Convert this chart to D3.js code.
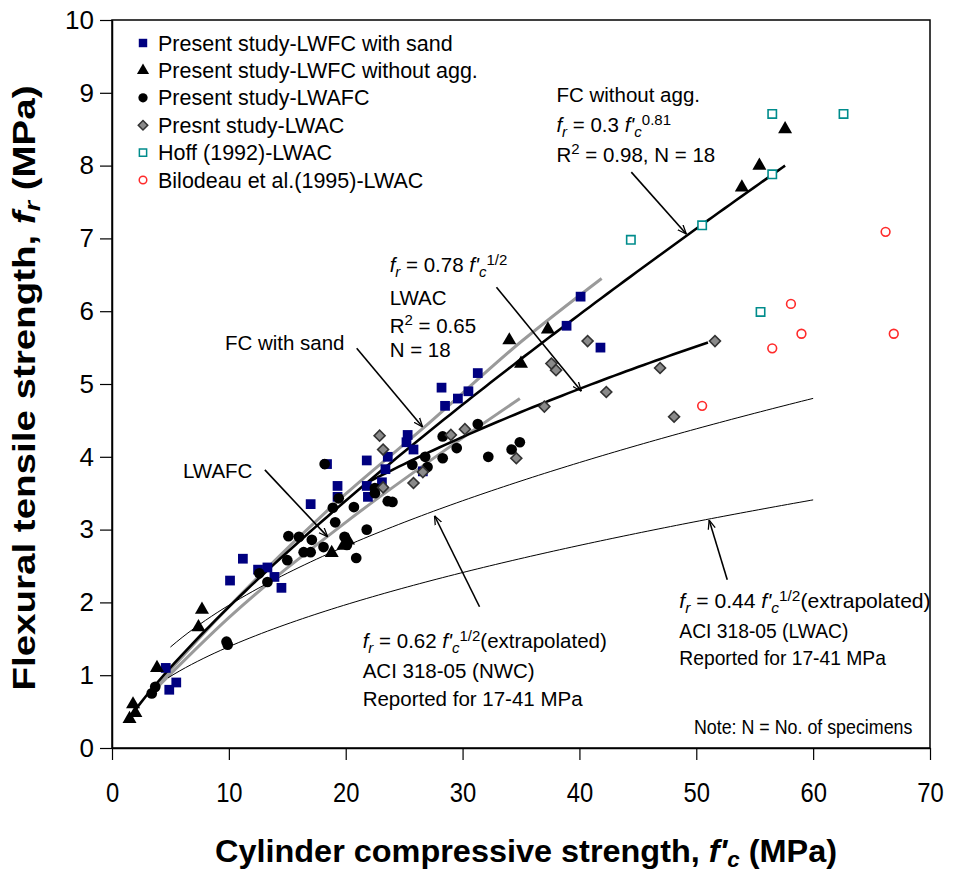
<!DOCTYPE html>
<html>
<head>
<meta charset="utf-8">
<script src="https://cdn.jsdelivr.net/npm/d3@7"></script>
<style>
  body { margin: 0; background: #fff; }
  text { font-family: "Liberation Sans", Arial, sans-serif; fill: #000; }
</style>
</head>
<body>
<div id="chart"></div>
<script>
/** DATA: [f'c (MPa), fr (MPa)] */
const lwfcSand = [[40.1,6.2],[38.9,5.8],[41.8,5.5],[31.3,5.15],[28.2,4.95],[29.6,4.8],[30.5,4.9],[28.5,4.7],
  [25.3,4.3],[25.2,4.2],[25.8,4.1],[23.6,4.0],[21.8,3.95],[23.4,3.83],[26.6,3.8],[18.4,3.9],[19.3,3.6],
  [23.1,3.65],[21.8,3.6],[17.0,3.35],[19.3,3.45],[21.9,3.45],[11.2,2.6],[10.1,2.3],[12.5,2.45],[13.3,2.48],
  [13.9,2.35],[14.5,2.2],[4.6,1.1],[5.5,0.9],[4.9,0.8]]
const lwfcNoAgg = [[57.6,8.5],[55.4,8.0],[53.9,7.7],[37.3,5.75],[34.0,5.6],[35.0,5.28],[7.7,1.9],[7.4,1.66],
  [3.85,1.1],[1.8,0.6],[2.0,0.48],[1.5,0.4],[18.8,2.68],[19.8,2.78],[20.2,2.85]]
const lwafc = [[18.2,3.9],[19.4,3.43],[18.9,3.3],[20.7,3.31],[22.5,3.5],[23.6,3.39],[24.0,3.38],[25.7,3.89],
  [26.8,4.0],[19.1,3.1],[21.8,3.0],[15.1,2.91],[16.0,2.9],[17.1,2.86],[17.0,2.69],[18.1,2.76],[19.9,2.9],
  [20.1,2.79],[20.9,2.61],[16.4,2.69],[15.0,2.58],[12.6,2.4],[13.3,2.28],[9.8,1.46],[9.9,1.42],[3.4,0.75],
  [3.7,0.84],[31.3,4.45],[28.3,4.28],[29.5,4.12],[28.3,3.98],[27.0,3.86],[32.2,4.0],[34.2,4.1],[34.9,4.2],[22.5,3.57]]
const lwac = [[40.7,5.59],[51.6,5.59],[37.6,5.28],[38.0,5.19],[42.3,4.89],[46.9,5.22],[48.1,4.55],[37.0,4.69],
  [22.9,4.29],[23.2,4.1],[30.2,4.38],[34.6,3.98],[23.2,3.58],[25.8,3.64],[26.6,3.79],[29.0,4.3]]
const hoff = [[56.5,8.71],[62.6,8.71],[56.5,7.88],[50.5,7.18],[44.4,6.98],[55.5,5.99]]
const bilodeau = [[66.2,7.09],[58.1,6.1],[59.0,5.69],[66.9,5.69],[56.5,5.49],[50.5,4.7]]

// gray fitted curves
const fcSandCurve = [[3.3,0.77],[10,1.94],[20,3.49],[26.6,4.39],[35,5.58],[41.9,6.45]]
const lwafcCurve = [[3.3,0.74],[10,1.79],[20,3.1],[30,4.26],[34.9,4.8]]

// labelled fits fr = a * fc^b
const powerFits = [
  { a: 0.3, b: 0.81, from: 1.4, to: 57.6, stroke: "#000", w: 2.6 },
  { a: 0.78, b: 0.5, from: 22, to: 51, stroke: "#000", w: 2.6 },
  { a: 0.62, b: 0.5, from: 5, to: 60, stroke: "#000", w: 1 },
  { a: 0.44, b: 0.5, from: 4.8, to: 60, stroke: "#000", w: 1 }
]

const xTicks = [0, 10, 20, 30, 40, 50, 60, 70]
const yTicks = [0, 1, 2, 3, 4, 5, 6, 7, 8, 9, 10]

const legendLabels = ["Present study-LWFC with sand", "Present study-LWFC without agg.", "Present study-LWAFC",
  "Presnt study-LWAC", "Hoff (1992)-LWAC", "Bilodeau et al.(1995)-LWAC"]

/** CONSTANTS */
const width = 960, height = 872
const margins = { top: 20, right: 30, bottom: 124, left: 112 }

const xScale = d3.scaleLinear().domain([0, 70]).range([margins.left, width - margins.right])
const yScale = d3.scaleLinear().domain([0, 10]).range([height - margins.bottom, margins.top])

const svg = d3.select("#chart").append("svg")
  .attr("width", width)
  .attr("height", height)

svg.append("defs").append("marker")
  .attr("id", "arrow")
  .attr("viewBox", "0 0 10 10")
  .attr("refX", 10).attr("refY", 5)
  .attr("markerWidth", 9).attr("markerHeight", 9)
  .attr("markerUnits", "userSpaceOnUse")
  .attr("orient", "auto")
  .append("path")
  .attr("d", "M0,1 L10,5 L0,9")
  .attr("fill", "none")
  .attr("stroke", "#000")
  .attr("stroke-width", 1.4)

// axes
const xAxis = svg.append("g")
  .attr("transform", `translate(0,${yScale(0)})`)
  .call(d3.axisBottom(xScale).tickValues(xTicks).tickSize(12).tickSizeOuter(0).tickPadding(22))
xAxis.selectAll("text").attr("font-size", 28).attr("font-family", "Liberation Sans, Arial")
  .attr("transform", "scale(0.85,1)")

const yAxis = svg.append("g")
  .attr("transform", `translate(${xScale(0)},0)`)
  .call(d3.axisLeft(yScale).tickValues(yTicks).tickSize(12).tickSizeOuter(0).tickPadding(6))
yAxis.selectAll("text").attr("font-size", 26).attr("font-family", "Liberation Sans, Arial")
svg.selectAll(".domain").attr("stroke-width", 1.5)
svg.selectAll(".tick line").attr("stroke-width", 1.2)

// frame
svg.append("rect")
  .attr("x", xScale(0)).attr("y", yScale(10))
  .attr("width", xScale(70) - xScale(0)).attr("height", yScale(0) - yScale(10))
  .attr("fill", "none").attr("stroke", "#000").attr("stroke-width", 1.5)

// axis titles
const yTitle = svg.append("text")
  .attr("transform", `translate(35,388) rotate(-90)`)
  .attr("text-anchor", "middle").attr("font-size", 32).attr("font-weight", "bold")
  .attr("textLength", 605).attr("lengthAdjust", "spacingAndGlyphs")
yTitle.append("tspan").text("Flexural tensile strength, ")
yTitle.append("tspan").attr("font-style", "italic").text("f")
yTitle.append("tspan").attr("font-style", "italic").attr("font-size", 22).attr("dy", 5).text("r")
yTitle.append("tspan").attr("dy", -5).text(" (MPa)")

const xTitle = svg.append("text")
  .attr("x", 526).attr("y", 862)
  .attr("text-anchor", "middle").attr("font-size", 32).attr("font-weight", "bold")
  .attr("textLength", 622).attr("lengthAdjust", "spacingAndGlyphs")
xTitle.append("tspan").text("Cylinder compressive strength, ")
xTitle.append("tspan").attr("font-style", "italic").text("f'")
xTitle.append("tspan").attr("font-style", "italic").attr("font-size", 22).attr("dy", 5).text("c")
xTitle.append("tspan").attr("dy", -5).text(" (MPa)")

// curves
const line = d3.line().x(d => xScale(d[0])).y(d => yScale(d[1]))
const plot = svg.append("g")

plot.append("path").datum(fcSandCurve).attr("d", line.curve(d3.curveMonotoneX))
  .attr("fill", "none").attr("stroke", "#9a9a9a").attr("stroke-width", 3)
plot.append("path").datum(lwafcCurve).attr("d", line.curve(d3.curveMonotoneX))
  .attr("fill", "none").attr("stroke", "#9a9a9a").attr("stroke-width", 3)

powerFits.forEach(f => {
  const pts = d3.range(f.from, f.to, 0.5).concat([f.to]).map(x => [x, f.a * Math.pow(x, f.b)])
  plot.append("path").datum(pts).attr("d", line.curve(d3.curveLinear))
    .attr("fill", "none").attr("stroke", f.stroke).attr("stroke-width", f.w)
})

// symbols (diamond = square turned 45 degrees)
const symbols = [
  { data: lwfcSand, type: d3.symbolSquare, size: 95, fill: "#000080", stroke: "none", rot: 0 },
  { data: lwfcNoAgg, type: d3.symbolTriangle, size: 85, fill: "#000", stroke: "none", rot: 0 },
  { data: lwafc, type: d3.symbolCircle, size: 90, fill: "#000", stroke: "none", rot: 0 },
  { data: lwac, type: d3.symbolSquare, size: 60, fill: "#8a8a8a", stroke: "#333", rot: 45 },
  { data: hoff, type: d3.symbolSquare, size: 70, fill: "#fff", stroke: "#008c8c", rot: 0 },
  { data: bilodeau, type: d3.symbolCircle, size: 60, fill: "#fff", stroke: "#ff2a2a", rot: 0 }
]

symbols.forEach(s => {
  plot.selectAll(null)
    .data(s.data)
    .join("path")
    .attr("transform", d => `translate(${xScale(d[0])},${yScale(d[1])}) rotate(${s.rot})`)
    .attr("d", d3.symbol().type(s.type).size(s.size))
    .attr("fill", s.fill)
    .attr("stroke", s.stroke)
    .attr("stroke-width", 1.6)
})

// legend
const legend = svg.append("g")
symbols.forEach((s, i) => {
  const cy = 43 + i * 27.4
  legend.append("path")
    .attr("transform", `translate(143,${cy}) rotate(${s.rot})`)
    .attr("d", d3.symbol().type(s.type).size(s.size * 0.75))
    .attr("fill", s.fill).attr("stroke", s.stroke).attr("stroke-width", 1.5)
  legend.append("text").attr("x", 158).attr("y", cy + 7.5).attr("font-size", 21.5).text(legendLabels[i])
})

// annotations: arrows in data units
const arrows = [
  [[44.44, 7.91], [49.15, 7.06]],
  [[32.9, 6.33], [40.17, 4.9]],
  [[20.94, 5.49], [26.58, 4.41]],
  [[13.08, 3.82], [18.46, 2.9]],
  [[31.45, 1.94], [27.6, 3.19]],
  [[52.65, 2.31], [51.1, 3.13]]
]
svg.selectAll("line.arrow")
  .data(arrows)
  .join("line")
  .attr("class", "arrow")
  .attr("x1", d => xScale(d[0][0])).attr("y1", d => yScale(d[0][1]))
  .attr("x2", d => xScale(d[1][0])).attr("y2", d => yScale(d[1][1]))
  .attr("stroke", "#000").attr("stroke-width", 1.6)
  .attr("marker-end", "url(#arrow)")

const notes = svg.append("g").attr("font-size", 20.5)

function note(x, y, parts, sx) {
  const t = notes.append("text")
    .attr("transform", `translate(${xScale(x)},${yScale(y)}) scale(${sx || 1},1)`)
  parts.forEach(p => {
    const ts = t.append("tspan").text(p.t)
    if (p.i) ts.attr("font-style", "italic")
    if (p.sub) ts.attr("font-size", 15).attr("dy", 5)
    if (p.sup) ts.attr("font-size", 15).attr("dy", p.sup)
    if (p.dy) ts.attr("dy", p.dy)
  })
  return t
}

function formula(x, y, coef, exp, tail, sx) {
  const parts = [
    { t: "f", i: true }, { t: "r", i: true, sub: true }, { t: " = " + coef + " ", dy: -5 },
    { t: "f'", i: true }, { t: "c", i: true, sub: true }, { t: exp, sup: -12 }
  ]
  if (tail) parts.push({ t: tail, dy: 7 })
  return note(x, y, parts, sx)
}

note(38.03, 8.87, [{ t: "FC without agg." }])
formula(38.03, 8.46, "0.3", "0.81")
note(38.03, 8.05, [{ t: "R" }, { t: "2", sup: -8 }, { t: " = 0.98, N = 18", dy: 8 }])

formula(23.76, 6.54, "0.78", "1/2")
note(23.76, 6.09, [{ t: "LWAC" }])
note(23.76, 5.7, [{ t: "R" }, { t: "2", sup: -8 }, { t: " = 0.65", dy: 8 }])
note(23.76, 5.37, [{ t: "N = 18" }])

note(9.66, 5.47, [{ t: "FC with sand" }])
note(6.07, 3.71, [{ t: "LWAFC" }])

formula(21.45, 1.37, "0.62", "1/2", "(extrapolated)")
note(21.45, 0.96, [{ t: "ACI 318-05 (NWC)" }])
note(21.45, 0.58, [{ t: "Reported for 17-41 MPa" }])

formula(48.55, 1.92, "0.44", "1/2", "(extrapolated)", 1.03)
note(48.55, 1.51, [{ t: "ACI 318-05 (LWAC)" }], 0.94)
note(48.55, 1.14, [{ t: "Reported for 17-41 MPa" }], 0.94)

note(49.8, 0.19, [{ t: "Note: N = No. of specimens" }], 0.87)
</script>
</body>
</html>
